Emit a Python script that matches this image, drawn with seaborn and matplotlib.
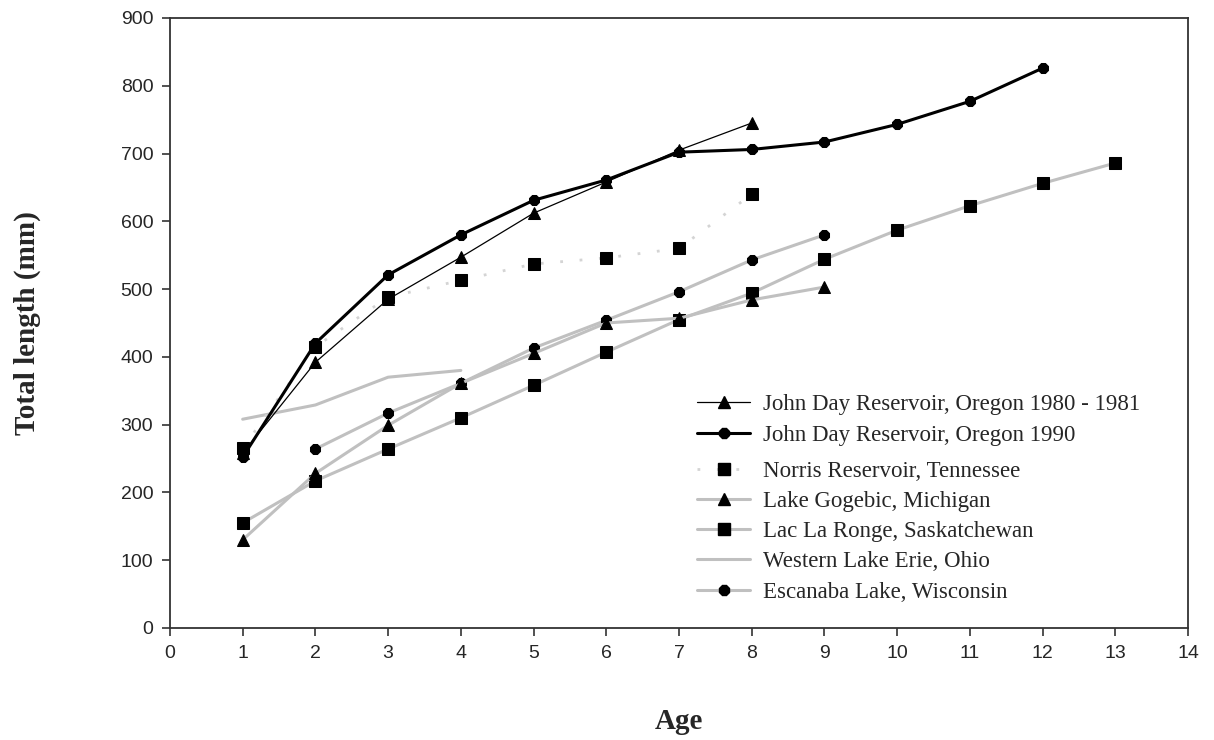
import numpy as np
import pandas as pd
import seaborn as sns
import matplotlib.pyplot as plt
from matplotlib.lines import Line2D

# ages (years) and mean total length (mm)
age_jd80 = [1, 2, 3, 4, 5, 6, 7, 8]
len_jd80 = [258, 392, 485, 547, 612, 658, 705, 745]

age_jd90 = [1, 2, 3, 4, 5, 6, 7, 8, 9, 10, 11, 12]
len_jd90 = [252, 420, 521, 580, 631, 661, 702, 706, 717, 743, 777, 826]

age_norris = [1, 2, 3, 4, 5, 6, 7, 8]
len_norris = [265, 415, 488, 513, 537, 546, 560, 640]

age_gogebic = [1, 2, 3, 4, 5, 6, 7, 8, 9]
len_gogebic = [130, 228, 299, 361, 405, 450, 457, 484, 503]

age_ronge = [1, 2, 3, 4, 5, 6, 7, 8, 9, 10, 11, 12, 13]
len_ronge = [155, 217, 264, 310, 358, 407, 455, 494, 544, 587, 623, 656, 686]

age_erie = [1, 2, 3, 4]
len_erie = [308, 329, 370, 380]

age_escanaba = [2, 3, 4, 5, 6, 7, 8, 9]
len_escanaba = [264, 317, 361, 413, 454, 496, 543, 580]

x_ticks = list(range(0, 15))
y_ticks = list(range(0, 901, 100))

sns.set_style("ticks")
plt.rcParams["font.family"] = ["Liberation Serif", "DejaVu Serif"]

GRAY = "#c0c0c0"

fig = plt.figure(figsize=(12.14, 7.40), dpi=100)
ax = fig.add_axes([0.1400, 0.1514, 0.8386, 0.8243])

# (x, y, label, line color, linewidth, linestyle, marker, markersize)
series = [
    (age_jd80, len_jd80, "John Day Reservoir, Oregon 1980 - 1981", "black", 0.9, "-", "^", 9),
    (age_jd90, len_jd90, "John Day Reservoir, Oregon 1990", "black", 2.2, "-", "8", 8.5),
    (age_norris, len_norris, "Norris Reservoir, Tennessee", "#d4d4d4", 2.0, (0, (1, 6)), "s", 8),
    (age_gogebic, len_gogebic, "Lake Gogebic, Michigan", GRAY, 2.2, "-", "^", 9),
    (age_ronge, len_ronge, "Lac La Ronge, Saskatchewan", GRAY, 2.2, "-", "s", 8),
    (age_erie, len_erie, "Western Lake Erie, Ohio", GRAY, 2.2, "-", None, 0),
    (age_escanaba, len_escanaba, "Escanaba Lake, Wisconsin", GRAY, 2.2, "-", "8", 8.5),
]

handles = []
for i, (xs, ys, lab, col, lw, ls, mk, ms) in enumerate(series):
    kw = dict(color=col, linewidth=lw, linestyle=ls)
    if mk is not None:
        kw.update(marker=mk, markersize=ms, markerfacecolor="black", markeredgecolor="black")
    sns.lineplot(x=xs, y=ys, ax=ax, zorder=10 - i, legend=False, **kw)
    handles.append(Line2D([], [], label=lab, **kw))

ax.set_xlim(0, 14)
ax.set_ylim(0, 900)
ax.set_xticks(x_ticks)
ax.set_yticks(y_ticks)

tick_font = {"family": ["Liberation Sans Narrow", "Liberation Sans"], "size": 14}
ax.set_xticklabels([str(t) for t in x_ticks], fontdict=tick_font)
ax.set_yticklabels([str(t) for t in y_ticks], fontdict=tick_font)
ax.tick_params(direction="out", length=6, width=1.2, color="#333333", pad=6)

for s in ax.spines.values():
    s.set_visible(True)
    s.set_linewidth(1.3)
    s.set_color("#333333")

ax.set_xlabel("Age", fontsize=21, fontweight="bold")
ax.set_ylabel("Total length (mm)", fontsize=21, fontweight="bold")
ax.xaxis.set_label_coords(0.5, -0.132)
ax.yaxis.set_label_coords(-0.127, 0.5)

leg_kw = dict(frameon=False, fontsize=16.5, handlelength=2.3, handletextpad=0.57,
              labelspacing=0.40, borderpad=0, borderaxespad=0, loc="upper left")
leg1 = ax.legend(handles=handles[:2], bbox_to_anchor=(0.518, 0.383), **leg_kw)
ax.add_artist(leg1)
ax.legend(handles=handles[2:], bbox_to_anchor=(0.518, 0.274), **leg_kw)

fig.savefig("out.png", dpi=100)
